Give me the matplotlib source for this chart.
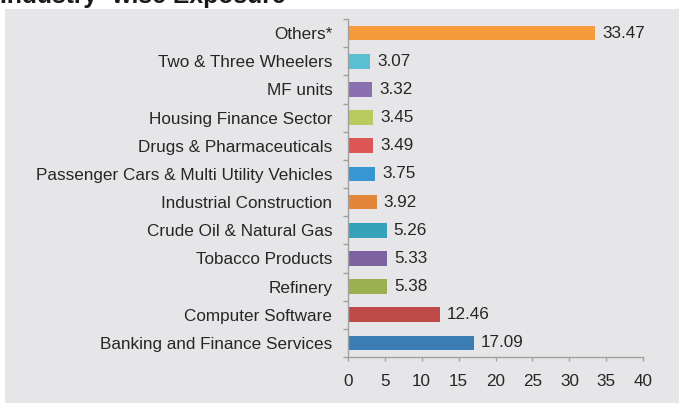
import matplotlib

matplotlib.use("Agg")

import matplotlib.pyplot as plt
import numpy as np
from matplotlib.patches import Rectangle

plt.rcParams["font.family"] = ["Liberation Sans", "DejaVu Sans"]

# bottom to top, as drawn
categories = [
    "Banking and Finance Services",
    "Computer Software",
    "Refinery",
    "Tobacco Products",
    "Crude Oil & Natural Gas",
    "Industrial Construction",
    "Passenger Cars & Multi Utility Vehicles",
    "Drugs & Pharmaceuticals",
    "Housing Finance Sector",
    "MF units",
    "Two & Three Wheelers",
    "Others*",
]
exposure = [17.09, 12.46, 5.38, 5.33, 5.26, 3.92, 3.75, 3.49, 3.45, 3.32, 3.07, 33.47]
bar_colors = [
    "#3a7db5", "#be4b48", "#9bb050", "#7c62a0", "#36a2b8", "#e2873a",
    "#3897d3", "#dd5555", "#b9ca5f", "#8a70b0", "#5bbfd4", "#f59b3c",
]
x_ticks = [0, 5, 10, 15, 20, 25, 30, 35, 40]

BG = "#e6e6e8"
TEXT = "#262626"
AXIS = "#a0a0a0"
FS = 12.3

W, H = 679, 403
fig = plt.figure(figsize=(W / 100, H / 100), dpi=100)
fig.patch.set_facecolor("white")

# grey panel under the chart, title strip stays white
fig.patches.append(Rectangle((5 / W, -0.01), 1.0, 1.01 - 9 / H, transform=fig.transFigure,
                             facecolor=BG, edgecolor="none", zorder=-5))
fig.text(0 / W, 1 - 3.5 / H, "Industry -wise Exposure", fontsize=17.8, fontweight="bold",
         color="#1a1a1a", ha="left", va="baseline", zorder=-6)

ax = fig.add_axes([347.7 / W, 1 - 357 / H, (643.3 - 347.7) / W, (357 - 19) / H])
ax.set_facecolor("none")

y = np.arange(len(categories))
bars = ax.barh(y, exposure, height=0.52, color=bar_colors, zorder=2)
for rect, val in zip(bars, exposure):
    ax.annotate(f"{val:.2f}", (rect.get_width(), rect.get_y() + rect.get_height() / 2),
                xytext=(5, 0), textcoords="offset points", ha="left", va="center",
                fontsize=FS, color=TEXT)

ax.set_xlim(0, 40)
ax.set_ylim(-0.5, len(categories) - 0.5)
ax.set_xticks(x_ticks)
ax.set_yticks(y)
ax.set_yticklabels(categories)
ax.set_yticks(np.arange(-0.5, len(categories), 1.0), minor=True)

for side in ("top", "right"):
    ax.spines[side].set_visible(False)
for side in ("left", "bottom"):
    ax.spines[side].set_color(AXIS)
    ax.spines[side].set_linewidth(1.0)

ax.tick_params(axis="y", which="major", length=0, pad=11, labelsize=FS, labelcolor=TEXT)
ax.tick_params(axis="y", which="minor", length=3.6, width=1.0, color=AXIS, direction="out")
ax.tick_params(axis="x", which="major", length=3, width=1.0, color=AXIS, pad=9,
               labelsize=FS, labelcolor=TEXT)

fig.savefig("out.png", dpi=100, facecolor=fig.get_facecolor())
